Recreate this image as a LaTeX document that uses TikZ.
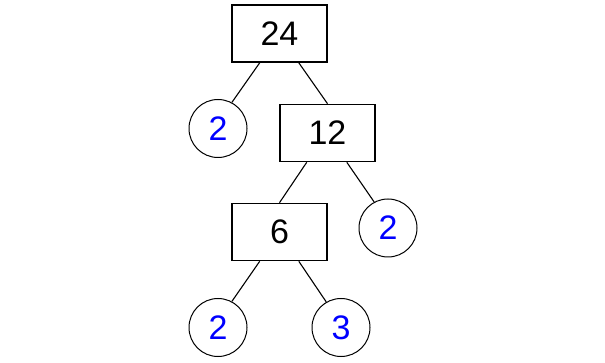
\documentclass[tikz,border=0pt]{standalone}
\usepackage{fontspec}
\setmainfont{Liberation Sans}
\usetikzlibrary{calc}
\definecolor{numblue}{RGB}{0,0,255}
\tikzset{
  valbox/.style={draw=black, line width=1.6pt, minimum width=95pt, minimum height=57pt, inner sep=0pt, font=\fontsize{34}{40}\selectfont},
  prime/.style={draw=black, circle, line width=1pt, minimum size=58pt, inner sep=0pt, text=numblue, font=\fontsize{34}{40}\selectfont},
  edge/.style={draw=black, line width=1.1pt}
}
\begin{document}
\begin{tikzpicture}[x=1pt,y=-1pt]
\useasboundingbox (0,0) rectangle (605,363);
\node[valbox] (b24) at (279.5,33.5) {24};
\node[valbox] (b12) at (327.5,133) {12};
\node[valbox] (b6) at (279.5,232) {6};
\node[prime] (c1) at (218,128.5) {2};
\node[prime] (c2) at (388,228) {2};
\node[prime] (c3) at (218,327.5) {2};
\node[prime] (c4) at (341,327.5) {3};
\draw[edge] ($(b24.south west)!0.295!(b24.south east)$) -- (c1.62);
\draw[edge] ($(b24.south west)!0.7!(b24.south east)$) -- (b12.north);
\draw[edge] ($(b12.south west)!0.285!(b12.south east)$) -- (b6.north);
\draw[edge] ($(b12.south west)!0.7!(b12.south east)$) -- (c2.118);
\draw[edge] ($(b6.south west)!0.295!(b6.south east)$) -- (c3.62);
\draw[edge] ($(b6.south west)!0.7!(b6.south east)$) -- (c4.120);
\end{tikzpicture}
\end{document}
